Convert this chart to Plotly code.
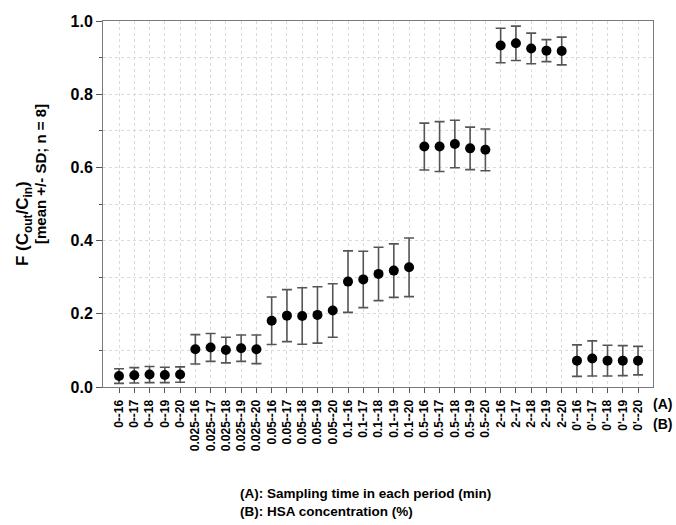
import plotly.graph_objects as go

categories = [
    "0--16", "0--17", "0--18", "0--19", "0--20",
    "0.025--16", "0.025--17", "0.025--18", "0.025--19", "0.025--20",
    "0.05--16", "0.05--17", "0.05--18", "0.05--19", "0.05--20",
    "0.1--16", "0.1--17", "0.1--18", "0.1--19", "0.1--20",
    "0.5--16", "0.5--17", "0.5--18", "0.5--19", "0.5--20",
    "2--16", "2--17", "2--18", "2--19", "2--20",
    "0'--16", "0'--17", "0'--18", "0'--19", "0'--20",
]
mean_f = [
    0.030, 0.032, 0.034, 0.033, 0.034,
    0.103, 0.108, 0.101, 0.106, 0.103,
    0.181, 0.195, 0.194, 0.197, 0.209,
    0.288, 0.294, 0.309, 0.318, 0.327,
    0.657, 0.657, 0.664, 0.652, 0.648,
    0.933, 0.939, 0.925, 0.919, 0.918,
    0.072, 0.078, 0.072, 0.072, 0.072,
]
sd_f = [
    0.020, 0.021, 0.022, 0.021, 0.021,
    0.040, 0.038, 0.035, 0.036, 0.039,
    0.065, 0.071, 0.077, 0.077, 0.073,
    0.084, 0.077, 0.073, 0.073, 0.080,
    0.064, 0.068, 0.065, 0.058, 0.057,
    0.047, 0.047, 0.042, 0.030, 0.038,
    0.043, 0.048, 0.042, 0.041, 0.039,
]

FONT = "Liberation Sans, Arial, sans-serif"
W, H = 676, 525
L, R, T, B = 103, 23, 21, 138
pw, ph = W - L - R, H - T - B

fig = go.Figure()
fig.add_trace(go.Scatter(
    x=categories, y=mean_f, mode="markers",
    marker=dict(color="black", size=10),
    error_y=dict(type="data", array=sd_f, visible=True,
                 color="#555555", thickness=1.6, width=5),
    showlegend=False,
))

grid = "#dadada"
fig.update_layout(
    width=W, height=H,
    margin=dict(l=L, r=R, t=T, b=B),
    paper_bgcolor="white", plot_bgcolor="white",
    font=dict(family=FONT, color="black"),
    xaxis=dict(
        type="category", range=[-1.05, 34.98],
        showline=True, linecolor="#7a7a7a", linewidth=1, mirror=True,
        ticks="outside", ticklen=5, tickcolor="#555555",
        tickangle=-90, tickfont=dict(size=12, family=FONT, weight="bold"),
        ticklabelstandoff=2,
        showgrid=True, gridcolor=grid, griddash="dot", gridwidth=1,
        zeroline=False,
    ),
    yaxis=dict(
        range=[0, 1.0], dtick=0.2, tickformat=".1f",
        showline=True, linecolor="#7a7a7a", linewidth=1, mirror=True,
        ticks="outside", ticklen=6, tickcolor="#555555",
        tickfont=dict(size=16, family=FONT, weight="bold"),
        showgrid=True, gridcolor=grid, griddash="dot", gridwidth=1,
        minor=dict(dtick=0.1, ticks="outside", ticklen=3, tickcolor="#555555",
                   showgrid=True, gridcolor=grid, griddash="dot"),
        zeroline=False,
    ),
)

def px_x(x):
    return (x - L) / pw

def px_y(y):
    return 1 - (y - T) / ph

annots = [
    dict(text="<b>F (C<sub>out</sub>/C<sub>in</sub>)</b>", x=px_x(24), y=px_y(224),
         textangle=-90, size=17),
    dict(text="<b>[mean +/- SD; n = 8]</b>", x=px_x(40), y=px_y(174),
         textangle=-90, size=15),
    dict(text="<b>(A)</b>", x=px_x(663), y=px_y(404), textangle=0, size=14),
    dict(text="<b>(B)</b>", x=px_x(663), y=px_y(424), textangle=0, size=14),
]
for a in annots:
    fig.add_annotation(text=a["text"], xref="paper", yref="paper",
                       x=a["x"], y=a["y"], xanchor="center", yanchor="middle",
                       textangle=a["textangle"], showarrow=False,
                       font=dict(size=a["size"], family=FONT, color="black"))

fig.add_annotation(text="<b>(A): Sampling time in each period (min)</b>",
                   xref="paper", yref="paper", x=px_x(238), y=px_y(493),
                   xanchor="left", yanchor="middle", showarrow=False,
                   font=dict(size=13.5, family=FONT, color="black"))
fig.add_annotation(text="<b>(B): HSA concentration (%)</b>",
                   xref="paper", yref="paper", x=px_x(238), y=px_y(511),
                   xanchor="left", yanchor="middle", showarrow=False,
                   font=dict(size=13.5, family=FONT, color="black"))

fig.write_html("out.html")
